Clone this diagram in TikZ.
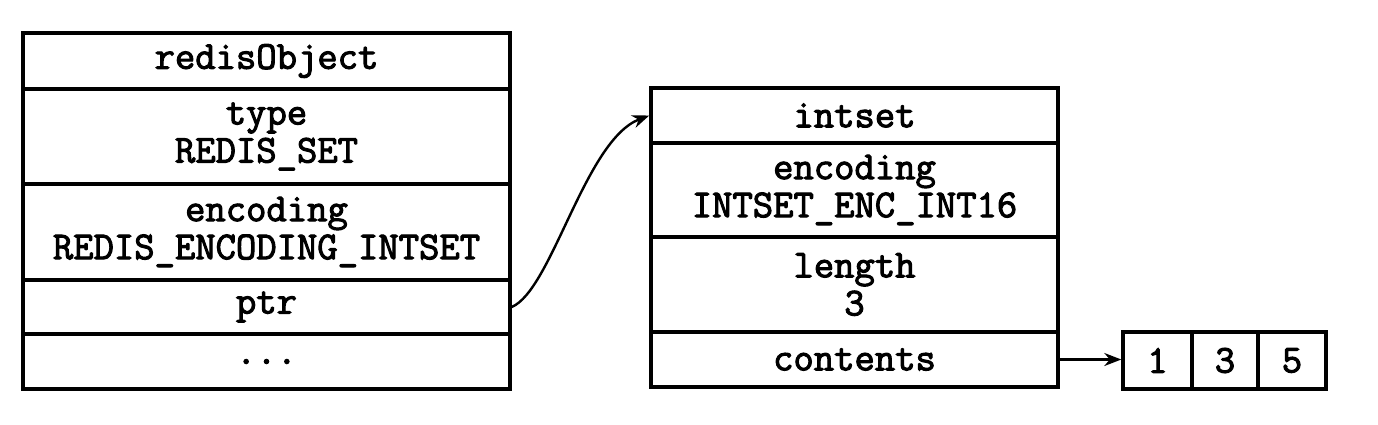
\documentclass[tikz,border=0pt]{standalone}
\usepackage{fontspec}
\newfontfamily\cellfont{Latin Modern Mono}[FakeBold=2.6]
\usetikzlibrary{arrows.meta}
\tikzset{
  cell/.style={draw=black, line width=3.4pt, inner sep=0pt, align=center,
    font=\fontsize{39.5}{38}\selectfont\cellfont},
  arr/.style={line width=2.4pt, -{Stealth[length=17pt,width=13pt]}}
}
\begin{document}
\begin{tikzpicture}[x=1pt,y=-1pt]
\useasboundingbox[fill=white] (0,0) rectangle (1378,424);
% redisObject
\node[cell, minimum width=487pt, minimum height=56pt] (robj) at (266.5,61) {redisObject};
\node[cell, minimum width=487pt, minimum height=95pt] (rtype) at (266.5,136.5) {type\\REDIS\_SET};
\node[cell, minimum width=487pt, minimum height=96pt] (renc) at (266.5,232) {encoding\\REDIS\_ENCODING\_INTSET};
\node[cell, minimum width=487pt, minimum height=54pt] (rptr) at (266.5,307) {ptr};
\node[cell, minimum width=487pt, minimum height=55pt] (rdots) at (266.5,361.5) {...};
% intset
\node[cell, minimum width=407pt, minimum height=55pt] (iset) at (854.5,115.5) {intset};
\node[cell, minimum width=407pt, minimum height=94pt] (ienc) at (854.5,190) {encoding\\INTSET\_ENC\_INT16};
\node[cell, minimum width=407pt, minimum height=95pt] (ilen) at (854.5,284.5) {length\\3};
\node[cell, minimum width=407pt, minimum height=55pt] (icont) at (854.5,359.5) {contents};
% array
\node[cell, minimum width=69pt, minimum height=57pt] (a1) at (1157.5,360.5) {1};
\node[cell, minimum width=66pt, minimum height=57pt] (a2) at (1225,360.5) {3};
\node[cell, minimum width=68pt, minimum height=57pt] (a3) at (1292,360.5) {5};
% connectors
\draw[arr] (rptr.east) .. controls (552,290) and (585,140) .. (iset.west);
\draw[arr] (icont.east) -- (a1.west |- icont.east);
\end{tikzpicture}
\end{document}
